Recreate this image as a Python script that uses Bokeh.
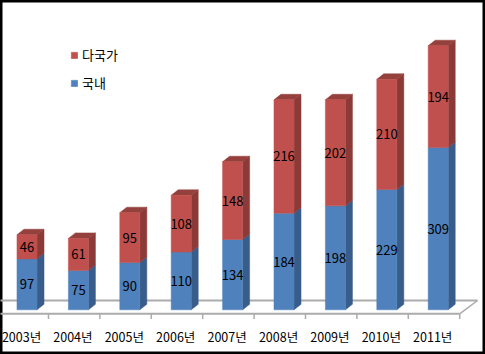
from bokeh.plotting import figure
from bokeh.models import ColumnDataSource, Legend, LegendItem, Range1d
from bokeh.core.properties import value
from bokeh.embed import file_html
from bokeh.resources import INLINE

# ---- data ----
years = ["2003년", "2004년", "2005년", "2006년", "2007년", "2008년", "2009년", "2010년", "2011년"]
domestic = [97, 75, 90, 110, 134, 184, 198, 229, 309]          # 국내
multinational = [46, 61, 95, 108, 148, 216, 202, 210, 194]     # 다국가
series_names = ["다국가", "국내"]

# ---- styling / geometry ----
FONT = "Noto Sans CJK KR"
BLUE, BLUE_SIDE = "#4F81BD", "#385D8A"
RED, RED_SIDE, RED_TOP = "#C0504D", "#8C3A38", "#94403D"
FLOOR = "#ABABAB"

n = len(years)
xs = list(range(n))
shift = 0.107      # front face shift from category centre
half_w = 0.195     # half front face width
dx = 0.136         # depth in x (category units)
dy = 10.5          # depth in y (value units)

p = figure(width=485, height=354,
           x_range=Range1d(-0.4086, 9.027), y_range=Range1d(-85.1, 589.1),
           x_axis_type=None, y_axis_type=None,
           output_backend="svg", toolbar_location=None, tools="", min_border=0)
p.grid.visible = False
p.background_fill_color = "white"
p.border_fill_color = "white"
p.outline_line_color = "black"
p.outline_line_width = 4

# ---- floor ----
back_y = 17.7
front_y = -7.6
tick_y = -17.5
last_b = n - 1 + 0.525
p.segment(x0=[-0.6], y0=[back_y], x1=[last_b + 0.347], y1=[back_y], line_color=FLOOR, line_width=2)
p.segment(x0=[-0.6], y0=[front_y], x1=[last_b], y1=[front_y], line_color=FLOOR, line_width=2)
p.segment(x0=[last_b], y0=[front_y], x1=[last_b + 0.347], y1=[back_y], line_color=FLOOR, line_width=1.5)
tick_x = [i + 0.525 for i in range(n)]
p.segment(x0=tick_x, y0=[front_y] * n, x1=tick_x, y1=[tick_y] * n, line_color=FLOOR, line_width=1.5)

# ---- bars ----
xl = [i + shift - half_w for i in xs]
xr = [i + shift + half_w for i in xs]
tops = [d + m for d, m in zip(domestic, multinational)]

blue_side_x = [[r, r + dx, r + dx, r] for r in xr]
blue_side_y = [[0, dy, d + dy, d] for d in domestic]
red_side_x = blue_side_x
red_side_y = [[d, d + dy, t + dy, t] for d, t in zip(domestic, tops)]
top_x = [[l, l + dx, r + dx, r] for l, r in zip(xl, xr)]
top_y = [[t, t + dy, t + dy, t] for t in tops]

p.patches(blue_side_x, blue_side_y, fill_color=BLUE_SIDE, line_color=BLUE_SIDE, line_width=0.5)
p.patches(red_side_x, red_side_y, fill_color=RED_SIDE, line_color=RED_SIDE, line_width=0.5)
p.patches(top_x, top_y, fill_color=RED_TOP, line_color=RED_TOP, line_width=0.5)

src = ColumnDataSource(dict(l=xl, r=xr, cx=[i + shift for i in xs], dom=domestic, mul=multinational,
                            top=tops, dmid=[d / 2 for d in domestic],
                            mmid=[d + m / 2 for d, m in zip(domestic, multinational)],
                            dlab=[str(v) for v in domestic], mlab=[str(v) for v in multinational]))
blue_r = p.quad(left="l", right="r", bottom=0, top="dom", source=src, fill_color=BLUE, line_color=BLUE, line_width=0.5)
red_r = p.quad(left="l", right="r", bottom="dom", top="top", source=src, fill_color=RED, line_color=RED, line_width=0.5)

p.text(x="cx", y="dmid", text="dlab", source=src, text_align="center", text_baseline="middle",
       text_font=value(FONT), text_font_size="13px", text_color="black")
p.text(x="cx", y="mmid", text="mlab", source=src, text_align="center", text_baseline="middle",
       text_font=value(FONT), text_font_size="13px", text_color="black")

# ---- category labels ----
lab_src = ColumnDataSource(dict(x=xs, y=[-50.9] * n, t=years))
p.text(x="x", y="y", text="t", source=lab_src, text_align="center", text_baseline="middle",
       text_font=value(FONT), text_font_size="12.5px", text_color="black")

# ---- legend ----
legend = Legend(items=[LegendItem(label=series_names[0], renderers=[red_r]),
                       LegendItem(label=series_names[1], renderers=[blue_r])],
                location=(70, 262), orientation="vertical",
                border_line_color=None, background_fill_alpha=0,
                padding=0, margin=0, spacing=9,
                glyph_width=8, glyph_height=8, label_height=16, label_standoff=4,
                label_text_font=FONT, label_text_font_size="13px", label_text_color="black")
p.add_layout(legend)

open("out.html", "w").write(file_html(p, INLINE))
